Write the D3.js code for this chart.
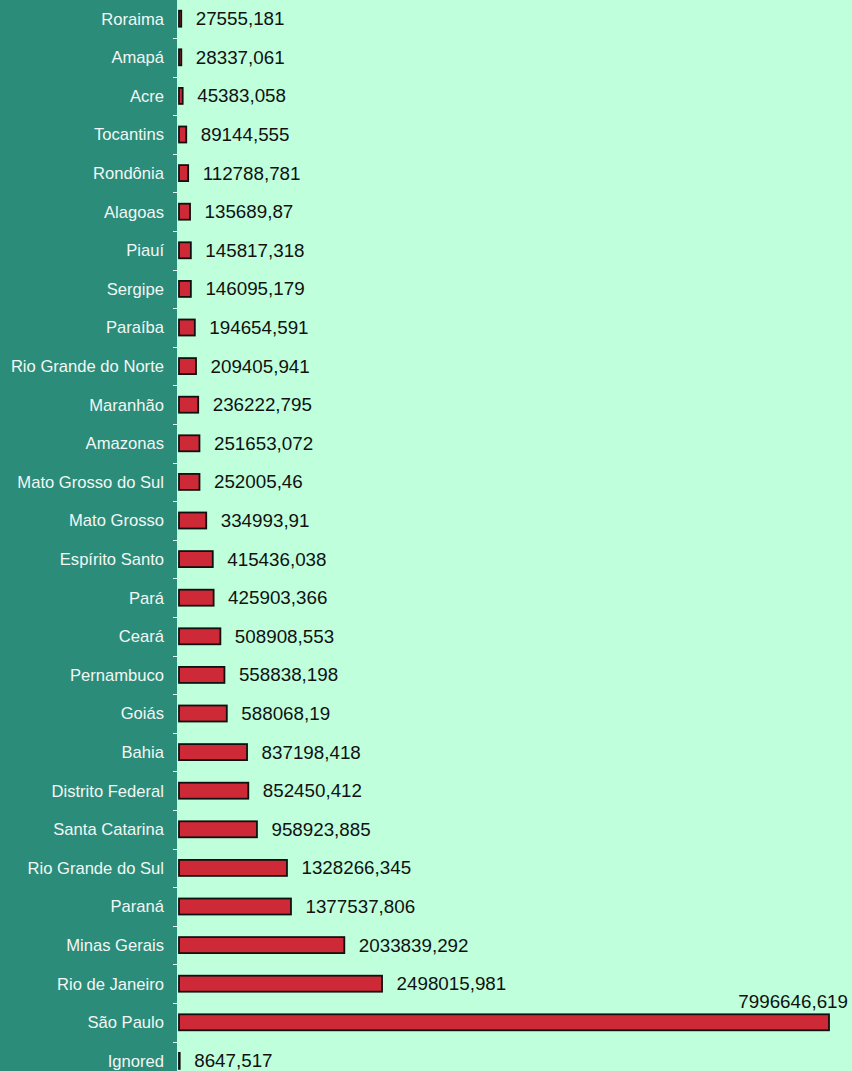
<!DOCTYPE html>
<html>
<head>
<meta charset="utf-8">
<script src="https://cdn.jsdelivr.net/npm/d3@7/dist/d3.min.js"></script>
<style>
  html, body { margin: 0; padding: 0; background: #bfffdc; }
  svg { display: block; }
</style>
</head>
<body>
<svg id="chart" width="852" height="1071"></svg>
<script>
// States, top to bottom
const states = [
  "Roraima", "Amapá", "Acre", "Tocantins", "Rondônia", "Alagoas", "Piauí",
  "Sergipe", "Paraíba", "Rio Grande do Norte", "Maranhão", "Amazonas",
  "Mato Grosso do Sul", "Mato Grosso", "Espírito Santo", "Pará", "Ceará",
  "Pernambuco", "Goiás", "Bahia", "Distrito Federal", "Santa Catarina",
  "Rio Grande do Sul", "Paraná", "Minas Gerais", "Rio de Janeiro",
  "São Paulo", "Ignored"
];

// Value per state
const values = [
  27555.181, 28337.061, 45383.058, 89144.555, 112788.781, 135689.87, 145817.318,
  146095.179, 194654.591, 209405.941, 236222.795, 251653.072,
  252005.46, 334993.91, 415436.038, 425903.366, 508908.553,
  558838.198, 588068.19, 837198.418, 852450.412, 958923.885,
  1328266.345, 1377537.806, 2033839.292, 2498015.981,
  7996646.619, 8647.517
];

// Printed labels, decimal comma
const valueLabels = [
  "27555,181", "28337,061", "45383,058", "89144,555", "112788,781", "135689,87", "145817,318",
  "146095,179", "194654,591", "209405,941", "236222,795", "251653,072",
  "252005,46", "334993,91", "415436,038", "425903,366", "508908,553",
  "558838,198", "588068,19", "837198,418", "852450,412", "958923,885",
  "1328266,345", "1377537,806", "2033839,292", "2498015,981",
  "7996646,619", "8647,517"
];

const rows = states.map((s, i) => ({ state: s, value: values[i], label: valueLabels[i] }));

const W = 852, H = 1071;
const panelRight = 177;
const step = 38.6;
const bandTop = -0.6;
const fontFamily = "'Liberation Sans', Arial, sans-serif";

const svg = d3.select("#chart");

// Mint plot background and teal label panel
svg.append("rect").attr("x", 0).attr("y", 0).attr("width", W).attr("height", H).attr("fill", "#bfffdc");
svg.append("rect").attr("x", 0).attr("y", 0).attr("width", panelRight).attr("height", H).attr("fill", "#2b8c79");

const y = d3.scaleBand()
  .domain(states)
  .range([bandTop, bandTop + step * states.length])
  .paddingInner(0).paddingOuter(0);

const x = d3.scaleLinear()
  .domain([0, d3.max(values)])
  .range([179, 829]);

const barH = 16;

// Tick marks between categories
svg.append("g")
  .selectAll("line")
  .data(states.slice(1))
  .join("line")
  .attr("x1", 173).attr("x2", panelRight)
  .attr("y1", d => Math.round(y(d)) + 0.5)
  .attr("y2", d => Math.round(y(d)) + 0.5)
  .attr("stroke", "#e8f5f0")
  .attr("stroke-width", 1);

// Category labels
svg.append("g")
  .selectAll("text")
  .data(rows)
  .join("text")
  .attr("x", 164)
  .attr("y", d => y(d.state) + y.bandwidth() / 2)
  .attr("dy", "0.35em")
  .attr("text-anchor", "end")
  .attr("fill", "#f2f7f5")
  .attr("font-family", fontFamily)
  .attr("font-size", 16.6)
  .text(d => d.state);

// Bars
svg.append("g")
  .selectAll("rect")
  .data(rows)
  .join("rect")
  .attr("x", x(0))
  .attr("y", d => y(d.state) + y.bandwidth() / 2 - barH / 2)
  .attr("width", d => x(d.value) - x(0))
  .attr("height", barH)
  .attr("fill", "#cd2936")
  .attr("stroke", "#111")
  .attr("stroke-width", 1.8);

// Value labels
const maxVal = d3.max(values);
svg.append("g")
  .selectAll("text")
  .data(rows)
  .join("text")
  .attr("x", d => d.value === maxVal ? x(d.value) + 19 : x(d.value) + 14.5)
  .attr("y", d => d.value === maxVal
    ? y(d.state) + y.bandwidth() / 2 - 21
    : y(d.state) + y.bandwidth() / 2)
  .attr("dy", "0.35em")
  .attr("text-anchor", d => d.value === maxVal ? "end" : "start")
  .attr("fill", "#111")
  .attr("font-family", fontFamily)
  .attr("font-size", 18.8)
  .text(d => d.label);
</script>
</body>
</html>
